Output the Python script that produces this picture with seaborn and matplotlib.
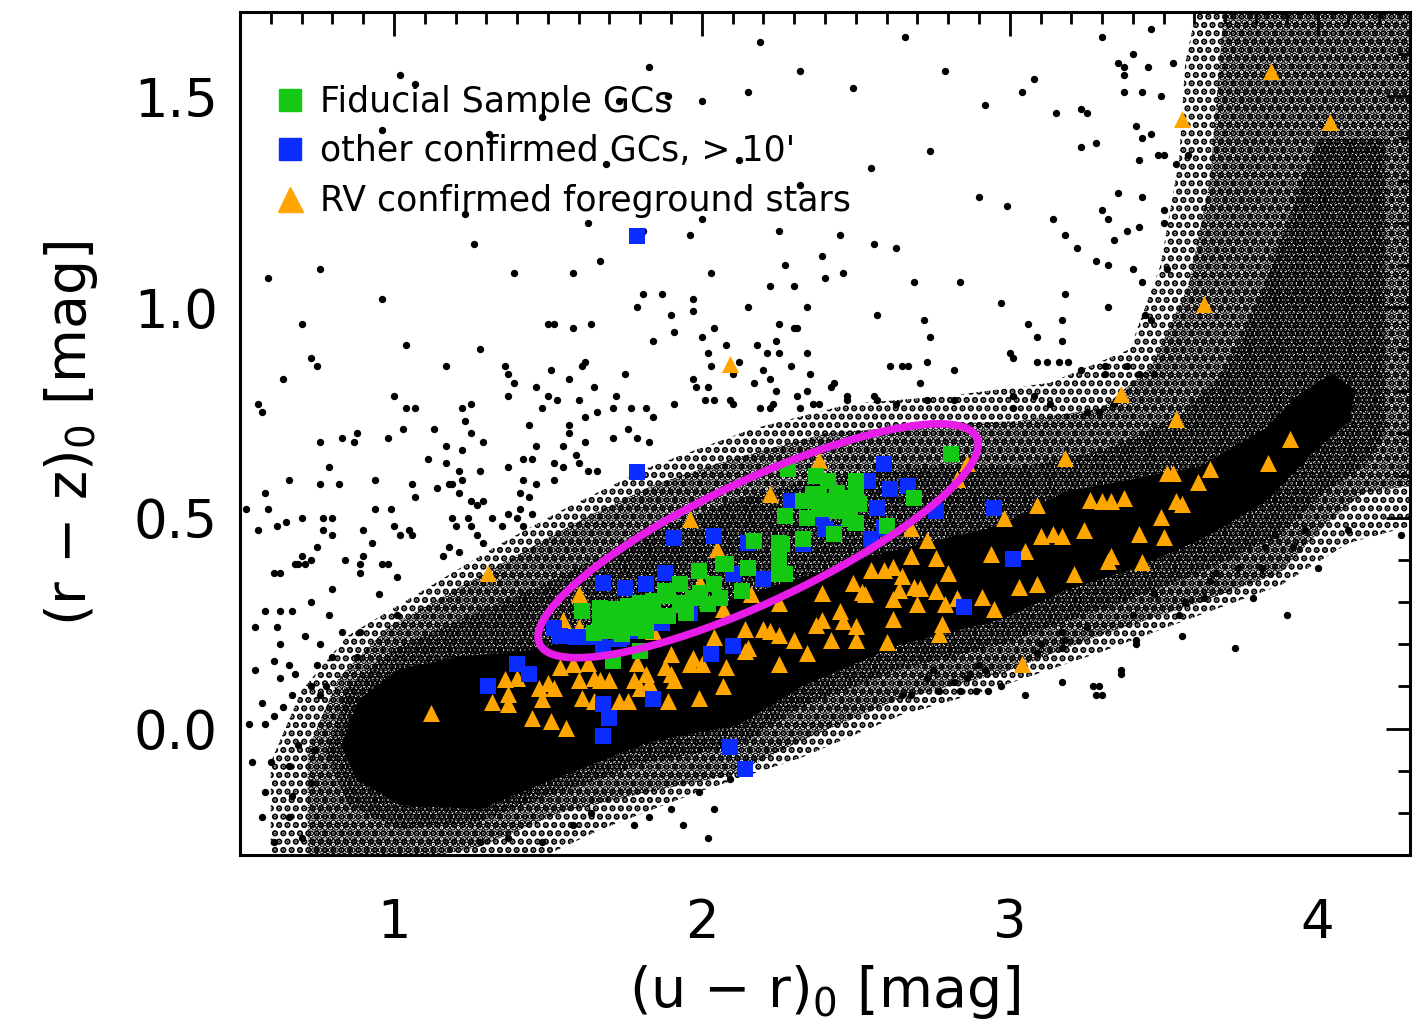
import numpy as np
import matplotlib
matplotlib.use("Agg")
import matplotlib.pyplot as plt
from matplotlib.ticker import MultipleLocator
from matplotlib.lines import Line2D
import seaborn as sns

# ---------------- data ----------------
# solid core of the field-star sequence
core_x = [0.83, 0.89, 1.02, 1.22, 1.41, 1.61, 1.83, 2.12, 2.56, 2.97, 3.18, 3.62, 3.83, 3.94, 4.05,
          4.12, 4.10, 3.99, 3.83, 3.62, 3.40, 3.18, 2.97, 2.64, 2.32, 2.12, 1.83, 1.48, 1.28, 1.02, 0.88]
core_y = [-0.04, 0.07, 0.14, 0.17, 0.18, 0.21, 0.24, 0.31, 0.41, 0.48, 0.56, 0.62, 0.71, 0.79, 0.84,
          0.80, 0.73, 0.66, 0.54, 0.45, 0.38, 0.33, 0.26, 0.20, 0.10, 0.01, -0.03, -0.13, -0.19, -0.18, -0.12]
# dense speckle zone
dense_x = [0.78, 0.85, 1.00, 1.22, 1.45, 1.65, 1.85, 2.10, 2.40, 2.75, 3.03, 3.30, 3.55, 3.70, 3.80,
           3.90, 4.00, 4.22, 4.22, 4.15, 4.02, 3.88, 3.62, 3.29, 2.97, 2.64, 2.32, 2.12, 1.83, 1.54, 1.28,
           1.02, 0.85]
dense_y = [-0.06, 0.10, 0.19, 0.26, 0.33, 0.40, 0.47, 0.54, 0.60, 0.62, 0.62, 0.66, 0.74, 0.85, 1.00,
           1.20, 1.40, 1.40, 0.70, 0.62, 0.56, 0.46, 0.37, 0.28, 0.20, 0.14, 0.05, -0.04, -0.08, -0.15, -0.22,
           -0.24, -0.18]
# medium density zone
med_x = [0.72, 0.72, 0.82, 0.98, 1.20, 1.42, 1.62, 1.85, 2.10, 2.40, 2.71, 3.03, 3.30, 3.46, 3.58,
         3.65, 3.70, 4.35, 4.35, 4.15, 4.02, 3.88, 3.62, 3.29, 2.97, 2.64, 2.32, 2.10, 1.83, 1.54, 1.28, 1.02]
med_y = [-0.30, -0.05, 0.12, 0.24, 0.33, 0.42, 0.50, 0.58, 0.64, 0.70, 0.72, 0.73, 0.76, 0.86, 1.05,
         1.30, 1.75, 1.75, 0.58, 0.56, 0.48, 0.37, 0.30, 0.22, 0.13, 0.07, -0.03, -0.11, -0.15, -0.20, -0.28, -0.32]
# light (outer) zone
light_x = [0.60, 0.60, 0.70, 0.85, 1.10, 1.35, 1.55, 1.83, 2.16, 2.48, 2.81, 3.13, 3.39, 3.49, 3.55,
           3.57, 3.62, 4.35, 4.35, 4.10, 3.88, 3.62, 3.29, 2.97, 2.64, 2.32, 1.99, 1.67, 1.35]
light_y = [-0.35, -0.08, 0.09, 0.22, 0.33, 0.44, 0.52, 0.62, 0.71, 0.77, 0.79, 0.82, 0.90, 1.10, 1.35,
           1.58, 1.75, 1.75, 0.49, 0.44, 0.34, 0.27, 0.18, 0.10, 0.03, -0.07, -0.15, -0.24, -0.35]

# isolated field stars
field_x = [1.26, 0.59, 0.76, 0.96, 1.39, 1.58, 1.67, 1.81, 1.79, 0.70, 1.04, 1.28, 1.50, 1.52, 1.58, 1.64, 1.84,
           0.73, 0.75, 0.64, 1.17, 1.36, 1.37, 1.39, 1.37, 1.51, 1.57, 1.62, 1.61, 1.75, 1.00, 0.56, 0.57,
           1.04, 1.07, 1.22, 1.25, 1.23, 1.25, 1.46, 1.50, 1.53, 1.60, 1.65, 1.72, 1.71, 1.77, 1.82, 1.84,
           1.44, 1.48, 1.62, 1.66, 1.57, 0.76, 0.83, 0.87, 0.88, 0.98, 1.03, 1.13, 1.17, 1.22, 1.29, 1.46,
           0.79, 0.66, 0.76, 0.82, 0.94, 1.06, 1.07, 1.11, 1.17, 1.21, 1.22, 1.14, 1.18, 1.19, 1.21, 1.28,
           1.37, 1.42, 1.45, 1.57, 1.62, 1.71, 1.76, 1.79, 1.83, 1.55, 1.59, 1.60, 1.63, 1.66, 1.55, 1.52,
           1.52, 1.46, 1.42, 1.41, 1.44, 0.58, 0.59, 0.52, 0.56, 0.62, 0.65, 0.70, 0.77, 0.80, 0.77, 0.80,
           0.75, 0.70, 0.68, 0.71, 0.84, 0.90, 0.90, 0.93, 0.94, 0.99, 1.00, 1.02, 1.05, 1.06, 0.96, 1.19,
           1.20, 1.24, 1.25, 1.27, 1.29, 1.25, 1.27, 1.29, 1.16, 1.18, 1.21, 1.32, 1.35, 1.37, 1.40, 1.42,
           1.41, 1.45,
           1.02, 1.07, 1.83, 1.73, 1.89, 2.00, 2.15, 0.96, 1.48, 1.31, 1.69, 2.12, 1.23, 1.63, 1.81, 1.96,
           2.00, 2.25, 2.45, 2.56, 2.63, 2.03, 2.27, 2.39, 2.40, 2.46, 2.22, 2.30, 2.69, 1.87, 1.97, 1.97,
           1.90, 2.15, 2.34, 2.57, 2.04, 2.25, 2.30, 2.31, 2.72, 2.74, 1.91, 2.00, 2.08, 2.18, 2.24, 2.02,
           2.03, 2.12, 2.21, 2.25, 2.34, 2.29, 2.61, 2.65, 2.67, 2.73, 2.82, 2.10, 2.20, 2.22, 2.35, 1.97,
           1.98, 2.02, 2.17, 2.24, 2.31, 2.34, 2.43, 2.42, 2.71, 1.91, 2.01, 2.04, 2.09, 2.10, 2.19, 2.22,
           2.23, 2.32, 2.36, 2.38, 2.47, 2.47, 2.56, 2.57, 2.63, 2.73, 2.82,
           3.30, 3.46, 3.40, 3.08, 3.04, 3.35, 3.37, 3.45, 3.53, 3.15, 3.23, 3.25, 3.37, 3.37, 3.43, 3.49,
           3.41, 3.43, 3.46, 3.23, 3.28, 3.42, 3.48, 3.50, 3.54, 3.58, 2.99, 3.14, 3.18, 3.22, 3.30, 3.32,
           3.35, 3.43, 3.50, 3.50, 3.34, 3.38, 3.42, 3.28, 3.32, 3.40, 3.43, 3.51, 3.18, 3.32, 3.17, 3.44,
           3.46, 3.06, 3.09, 3.17, 3.00, 3.01, 3.09, 3.12, 3.16, 3.19, 3.23, 3.31, 3.31, 3.38, 3.42, 3.47,
           3.01, 3.01, 3.08, 3.13, 3.25, 3.29, 3.34,
           2.19, 2.32, 2.49, 2.66, 2.79, 2.92, 2.74, 2.55, 2.32, 2.90, 2.84, 2.97,
           3.79, 3.90, 4.00, 4.10, 4.27, 3.57, 3.63, 3.55, 3.56, 3.73, 3.40, 3.41, 3.41, 3.25, 3.17, 3.18,
           3.17, 3.10, 3.09, 3.36, 3.36, 3.27, 3.29, 3.28, 3.30, 3.05, 2.97, 2.86, 2.89, 2.82, 2.77, 2.68,
           3.47, 3.65, 3.74, 3.92, 3.82, 3.96, 3.86, 3.83, 3.67, 3.57, 2.92, 3.17, 2.65, 2.73, 2.75, 2.84,
           2.87, 2.93, 2.90,
           0.58, 0.67, 0.73, 0.66, 0.70, 0.61, 0.57, 0.74, 0.69, 0.61, 0.64, 0.57, 0.67, 0.63, 0.73, 0.76,
           0.78, 0.58, 0.53, 0.54, 0.60, 0.66, 0.73, 0.58, 0.63, 0.67, 0.62, 0.55, 0.79, 0.80, 0.89, 0.95,
           0.71, 0.76, 0.83, 0.89, 0.88, 0.80, 0.75, 0.66, 0.68, 0.61, 0.55, 0.63, 0.73, 0.69, 0.63, 0.61,
           0.98, 1.01, 1.01, 0.89,
           1.58, 1.64, 1.78, 1.83, 1.90, 1.99, 2.04, 2.02, 1.94, 2.09, 1.48, 1.37, 1.28]
field_y = [1.15, 1.07, 1.09, 1.02, 1.08, 1.08, 1.11, 1.03, 1.00, 0.96, 0.91, 0.90, 0.96, 0.96, 0.95, 0.96, 0.92,
           0.88, 0.86, 0.83, 0.86, 0.86, 0.84, 0.82, 0.79, 0.85, 0.83, 0.87, 0.86, 0.84, 0.79, 0.77, 0.75,
           0.76, 0.76, 0.76, 0.77, 0.73, 0.70, 0.81, 0.79, 0.78, 0.78, 0.81, 0.79, 0.76, 0.76, 0.76, 0.74,
           0.72, 0.76, 0.74, 0.75, 0.72, 0.68, 0.69, 0.68, 0.70, 0.69, 0.71, 0.71, 0.67, 0.66, 0.68, 0.67,
           0.62, 0.59, 0.58, 0.58, 0.59, 0.58, 0.55, 0.64, 0.63, 0.61, 0.59, 0.57, 0.58, 0.58, 0.56, 0.61,
           0.62, 0.64, 0.64, 0.70, 0.68, 0.69, 0.71, 0.69, 0.68, 0.67, 0.65, 0.63, 0.61, 0.61, 0.62, 0.63,
           0.59, 0.58, 0.59, 0.56, 0.55, 0.56, 0.52, 0.52, 0.47, 0.48, 0.49, 0.50, 0.50, 0.50, 0.47, 0.46,
           0.43, 0.41, 0.39, 0.39, 0.40, 0.47, 0.41, 0.44, 0.52, 0.52, 0.48, 0.46, 0.47, 0.46, 0.39, 0.50,
           0.48, 0.50, 0.54, 0.53, 0.54, 0.48, 0.46, 0.44, 0.41, 0.43, 0.42, 0.50, 0.48, 0.51, 0.50, 0.48,
           0.52, 0.51,
           1.55, 1.53, 1.57, 1.49, 1.50, 1.49, 1.51, 1.42, 1.45, 1.41, 1.34, 1.35, 1.22, 1.20, 1.18, 1.17,
           1.21, 1.18, 1.17, 1.15, 1.14, 1.08, 1.10, 1.12, 1.07, 1.08, 1.05, 1.05, 1.06, 1.03, 1.02, 0.99,
           0.98, 1.00, 1.00, 0.98, 0.95, 0.96, 0.95, 0.95, 0.97, 0.93, 0.94, 0.93, 0.91, 0.91, 0.92, 0.89,
           0.86, 0.87, 0.89, 0.89, 0.89, 0.86, 0.86, 0.86, 0.86, 0.87, 0.85, 0.84, 0.85, 0.83, 0.84, 0.83,
           0.81, 0.81, 0.82, 0.80, 0.79, 0.80, 0.82, 0.81, 0.82, 0.77, 0.78, 0.78, 0.78, 0.77, 0.76, 0.76,
           0.77, 0.76, 0.77, 0.77, 0.79, 0.78, 0.79, 0.78, 0.77, 0.78, 0.78,
           1.64, 1.66, 1.60, 1.54, 1.51, 1.58, 1.57, 1.57, 1.58, 1.46, 1.47, 1.46, 1.55, 1.51, 1.51, 1.50,
           1.43, 1.40, 1.41, 1.38, 1.39, 1.35, 1.36, 1.36, 1.34, 1.36, 1.24, 1.21, 1.17, 1.14, 1.23, 1.21,
           1.27, 1.26, 1.23, 1.20, 1.16, 1.18, 1.19, 1.11, 1.10, 1.09, 1.06, 1.09, 1.03, 1.00, 0.97, 0.98,
           0.97, 0.96, 0.93, 0.92, 0.89, 0.88, 0.87, 0.87, 0.87, 0.87, 0.85, 0.86, 0.84, 0.86, 0.84, 0.84,
           0.79, 0.76, 0.79, 0.77, 0.75, 0.75, 0.77,
           1.63, 1.56, 1.52, 1.64, 1.56, 1.48, 1.37, 1.33, 1.29, 1.26, 1.06, 1.01,
           0.31, 0.27, 0.38, 0.47, 0.46, 0.30, 0.31, 0.27, 0.22, 0.19, 0.27, 0.21, 0.20, 0.24, 0.23, 0.21,
           0.19, 0.20, 0.18, 0.14, 0.13, 0.10, 0.10, 0.08, 0.08, 0.08, 0.10, 0.12, 0.09, 0.11, 0.09, 0.08,
           0.32, 0.35, 0.38, 0.43, 0.38, 0.47, 0.46, 0.43, 0.37, 0.30, 0.14, 0.11, 0.08, 0.12, 0.14, 0.09,
           0.13, 0.09, 0.15,
           -0.15, -0.16, -0.13, -0.21, -0.26, -0.27, -0.21, -0.05, -0.04, 0.03, 0.05, 0.06, 0.08, 0.12, 0.10, 0.08,
           0.10, 0.01, 0.01, -0.08, -0.08, -0.09, 0.30, 0.28, 0.28, 0.28, 0.24, 0.24, 0.27, 0.33, 0.37, 0.32,
           0.22, 0.20, 0.23, 0.23, 0.17, 0.17, 0.15, 0.15, 0.13, 0.16, 0.14, 0.20, 0.40, 0.39, 0.37, 0.37,
           0.39, 0.36, 0.27, 0.39,
           -0.23, -0.20, -0.23, -0.21, -0.19, -0.15, -0.19, -0.26, -0.23, -0.12, -0.27, -0.26, -0.27]

# RV confirmed foreground stars
fg_x = [3.85, 3.56, 4.04, 3.63, 2.09, 3.36, 3.54, 3.18, 3.91, 3.84, 3.65, 3.51, 3.53, 3.61, 1.305, 3.04, 1.12,
        3.54, 3.56, 3.26, 3.30, 3.33, 3.37, 3.09, 2.98, 3.49, 3.10, 3.14, 3.17, 3.24, 3.42, 3.50, 2.94, 3.05,
        3.33, 3.32, 3.43, 3.21, 3.03, 3.09, 2.91, 2.95, 2.83,
        2.38, 2.22, 2.83, 2.86, 2.68, 2.73, 2.68, 2.76, 2.80, 2.55, 2.59, 2.62, 2.65, 2.49, 2.52, 2.53, 2.39,
        2.64, 2.69, 2.71, 2.76, 2.62, 2.70, 2.79, 2.45, 2.46, 2.39, 2.37, 2.50, 2.62, 2.78, 2.14, 2.20, 2.22,
        2.25, 2.30, 2.42, 2.50, 2.60, 2.77, 2.15, 2.34, 2.25, 2.16, 2.25, 1.96,
        1.60, 1.55, 1.60, 1.995, 2.05, 2.07, 1.84, 1.54, 1.58, 1.63, 1.36, 1.40, 1.32, 1.37, 1.37, 1.47, 1.50,
        1.52, 1.48, 1.45, 1.51, 1.56, 1.60, 1.65, 1.67, 1.61, 1.65, 1.70, 1.73, 1.76, 1.78, 1.79, 1.82, 1.83,
        1.88, 1.90, 1.91, 1.89, 1.97, 1.96, 2.00, 2.07, 1.99, 2.08, 2.14, 2.04, 1.90, 1.80]
fg_y = [1.56, 1.445, 1.44, 1.007, 0.865, 0.794, 0.735, 0.642, 0.687, 0.630, 0.616, 0.607, 0.607, 0.585, 0.370, 0.154, 0.038,
        0.540, 0.533, 0.543, 0.540, 0.540, 0.547, 0.531, 0.500, 0.502, 0.457, 0.462, 0.457, 0.472, 0.462, 0.455, 0.415, 0.422,
        0.410, 0.398, 0.396, 0.367, 0.336, 0.344, 0.313, 0.284, 0.310,
        0.637, 0.557, 0.592, 0.630, 0.476, 0.448, 0.410, 0.405, 0.370, 0.377, 0.377, 0.384, 0.363, 0.346, 0.325, 0.320, 0.322,
        0.329, 0.336, 0.334, 0.327, 0.308, 0.296, 0.296, 0.280, 0.256, 0.258, 0.246, 0.244, 0.261, 0.249, 0.237, 0.237, 0.232,
        0.223, 0.209, 0.211, 0.211, 0.206, 0.225, 0.190, 0.180, 0.154, 0.320, 0.299, 0.498,
        0.320, 0.258, 0.242, 0.346, 0.427, 0.284, 0.232, 0.145, 0.154, 0.156, 0.118, 0.121, 0.062, 0.083, 0.059, 0.097, 0.107,
        0.095, 0.071, 0.026, 0.019, 0.002, 0.114, 0.121, 0.114, 0.073, 0.066, 0.114, 0.066, 0.066, 0.114, 0.156, 0.130, 0.107,
        0.145, 0.130, 0.114, 0.066, 0.168, 0.154, 0.154, 0.102, 0.073, 0.145, 0.185, 0.216, 0.178, 0.097]

# other confirmed GCs (> 10')
oth_x = [1.79, 1.79, 2.59, 2.54, 2.61, 2.67, 2.76, 2.95, 3.01, 2.85, 2.29, 2.57, 2.59, 2.55, 2.40, 2.43,
         2.39, 2.33, 2.15, 2.04, 1.91, 1.88, 1.82, 1.75, 1.68, 2.20, 2.10, 1.99, 1.96, 1.87, 1.78, 1.73,
         1.68, 1.74, 1.67, 1.63, 1.59, 1.54, 1.52, 2.03, 2.10, 1.40, 1.44, 1.305, 1.68, 1.70, 1.68, 1.84,
         2.09, 2.14]
oth_y = [1.168, 0.609, 0.628, 0.588, 0.569, 0.576, 0.517, 0.524, 0.403, 0.289, 0.540, 0.524, 0.476, 0.450, 0.474, 0.464,
         0.500, 0.438, 0.441, 0.457, 0.453, 0.370, 0.344, 0.334, 0.346, 0.355, 0.367, 0.310, 0.275, 0.251, 0.232, 0.213,
         0.190, 0.216, 0.227, 0.216, 0.216, 0.220, 0.239, 0.178, 0.197, 0.154, 0.130, 0.100, 0.059, 0.026, -0.017, 0.071,
         -0.045, -0.095]

# fiducial sample GCs
fid_x = [2.81, 2.28, 2.37, 2.41, 2.50, 2.33, 2.38, 2.43, 2.47, 2.51, 2.69, 2.27, 2.34, 2.44, 2.48, 2.50,
         2.40, 2.43, 2.60, 2.17, 2.25, 2.33, 2.25, 2.25, 2.27, 2.15, 2.07, 1.99, 2.13, 2.04, 1.995, 2.06,
         2.08, 2.02, 1.97, 1.93, 1.89, 1.84, 1.80, 1.76, 1.71, 1.67, 1.61, 1.67, 1.71, 1.76, 1.80, 1.84,
         1.89, 1.69, 1.78, 1.82, 1.74, 1.65, 1.93, 1.88, 1.95, 1.71, 1.80, 2.44, 2.46, 2.50, 2.36, 2.38,
         2.48, 2.26, 2.25]
fid_y = [0.652, 0.616, 0.600, 0.588, 0.588, 0.540, 0.552, 0.540, 0.547, 0.533, 0.547, 0.505, 0.500, 0.517, 0.498, 0.488,
         0.521, 0.462, 0.481, 0.445, 0.441, 0.450, 0.405, 0.367, 0.367, 0.382, 0.391, 0.374, 0.327, 0.344, 0.322, 0.310,
         0.391, 0.296, 0.310, 0.299, 0.315, 0.303, 0.299, 0.291, 0.284, 0.287, 0.280, 0.256, 0.251, 0.263, 0.263, 0.268,
         0.268, 0.232, 0.239, 0.232, 0.225, 0.227, 0.344, 0.327, 0.275, 0.161, 0.185, 0.559, 0.545, 0.569, 0.557, 0.521,
         0.536, 0.438, 0.398]

# selection ellipse (centre, semi-axes in x-units, tilt on screen)
ell_cx, ell_cy = 2.183, 0.4455
ell_a, ell_b = 0.785, 0.197
ell_tilt = 25.3

legend_labels = ["Fiducial Sample GCs", "other confirmed GCs, > 10'", "RV confirmed foreground stars"]
xlim = (0.5, 4.3)
ylim = (-0.3, 1.7)

# ---------------- style ----------------
sns.set_style("white")
plt.rcParams["font.family"] = ["DejaVu Sans"]
plt.rcParams["hatch.linewidth"] = 3.2
plt.rcParams["mathtext.default"] = "regular"
plt.rcParams["text.color"] = "black"
plt.rcParams["axes.labelcolor"] = "black"
plt.rcParams["xtick.color"] = "black"
plt.rcParams["ytick.color"] = "black"

GREEN = "#14c814"
BLUE = "#0a2cff"
ORANGE = "#ffa500"
MAGENTA = "#e81ce8"

W, H = 14.25, 10.27
fig = plt.figure(figsize=(W, H), dpi=100)
ax_rect = [0.1684, 0.1675, 0.8211, 0.8208]
ax = fig.add_axes(ax_rect)

# field-star density zones (stacked dot textures)
ax.fill(light_x, light_y, facecolor="none", edgecolor="black", hatch="..", lw=0, zorder=1.0)
ax.fill(med_x, med_y, facecolor="none", edgecolor="black", hatch="...", lw=0, zorder=1.05)
ax.fill(dense_x, dense_y, facecolor="none", edgecolor="black", hatch="....", lw=0, zorder=1.1)
ax.fill(core_x, core_y, facecolor="black", edgecolor="black", lw=1, zorder=1.2)
sns.scatterplot(x=field_x, y=field_y, color="black", s=28, linewidth=0, ax=ax, zorder=1.5)

sns.scatterplot(x=fg_x, y=fg_y, color=ORANGE, marker="^", s=150, linewidth=0, ax=ax, zorder=3)
sns.scatterplot(x=oth_x, y=oth_y, color=BLUE, marker="s", s=120, linewidth=0, ax=ax, zorder=4)
sns.scatterplot(x=fid_x, y=fid_y, color=GREEN, marker="s", s=120, linewidth=0, ax=ax, zorder=5)

# ellipse, isotropic on screen
px_per_x = ax_rect[2] * W / (xlim[1] - xlim[0])
px_per_y = ax_rect[3] * H / (ylim[1] - ylim[0])
ratio = px_per_x / px_per_y
t = np.linspace(0, 2 * np.pi, 500)
th = np.deg2rad(ell_tilt)
ex = ell_cx + ell_a * np.cos(t) * np.cos(th) - ell_b * np.sin(t) * np.sin(th)
ey = ell_cy + (ell_a * np.cos(t) * np.sin(th) + ell_b * np.sin(t) * np.cos(th)) * ratio
ax.plot(ex, ey, color=MAGENTA, lw=5.5, zorder=6)

ax.set_xlim(*xlim)
ax.set_ylim(*ylim)
ax.set_xticks([1, 2, 3, 4])
ax.set_xticklabels(["1", "2", "3", "4"])
ax.set_yticks([0.0, 0.5, 1.0, 1.5])
ax.set_yticklabels(["0.0", "0.5", "1.0", "1.5"])
ax.xaxis.set_minor_locator(MultipleLocator(0.1))
ax.yaxis.set_minor_locator(MultipleLocator(0.1))
ax.tick_params(which="both", direction="in", top=True, right=True, width=2, color="black")
ax.tick_params(which="major", length=17, labelsize=38, labelcolor="black")
ax.tick_params(which="minor", length=8.5)
ax.tick_params(axis="x", which="major", pad=30)
ax.tick_params(axis="y", which="major", pad=16)
for sp in ax.spines.values():
    sp.set_linewidth(2.2)
    sp.set_color("black")
    sp.set_zorder(10)

ax.set_xlabel("(u − r)$_0$ [mag]", fontsize=40, labelpad=10, color="black")
ax.set_ylabel("(r − z)$_0$ [mag]", fontsize=40, labelpad=24, color="black")

handles = [
    Line2D([], [], marker="s", color=GREEN, ls="none", markersize=16),
    Line2D([], [], marker="s", color=BLUE, ls="none", markersize=16),
    Line2D([], [], marker="^", color=ORANGE, ls="none", markersize=18),
]
leg = ax.legend(handles, legend_labels, loc="upper left", bbox_to_anchor=(0.022, 0.922),
                frameon=False, fontsize=25, handlelength=1.0, handletextpad=0.35,
                labelspacing=0.45, borderaxespad=0, borderpad=0.2)
for txt in leg.get_texts():
    txt.set_color("black")

fig.savefig("out.png", dpi=100)
